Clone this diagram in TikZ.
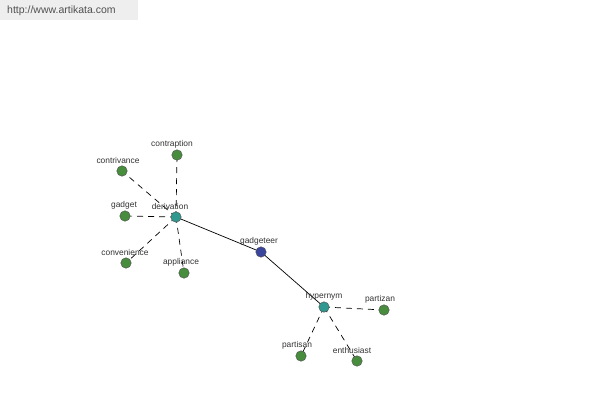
\documentclass[tikz,border=0pt]{standalone}
\usepackage{fontspec}
\setmainfont{Liberation Sans}
\begin{document}
\begin{tikzpicture}[x=1pt,y=-1pt,
  vert/.style={circle,draw=black!70,line width=0.4pt,minimum size=10.5pt,inner sep=0pt},
  leaf/.style={vert,fill={rgb,255:red,72;green,140;blue,62}},
  rel/.style={vert,fill={rgb,255:red,48;green,152;blue,142}},
  root/.style={vert,fill={rgb,255:red,58;green,70;blue,158}},
  lab/.style={font=\fontsize{8.4}{9}\selectfont,text={rgb,255:red,50;green,50;blue,50},inner sep=0pt},
  dashline/.style={dashed,dash pattern=on 6pt off 5pt,line width=0.7pt},
  solidline/.style={line width=0.7pt}]
\useasboundingbox (0,0) rectangle (600,400);
\fill[fill={rgb,255:red,238;green,238;blue,238}] (0,0) rectangle (138,20);
\node[anchor=west,inner sep=0pt,font=\fontsize{10.5}{11}\selectfont,text={rgb,255:red,80;green,80;blue,80}] (url) at (7,11) {http://www.artikata.com};

\coordinate (pder) at (176,217);
\coordinate (pgad) at (261,252);
\coordinate (phyp) at (324,307);

\draw[solidline] (pder) -- (pgad) -- (phyp);
\foreach \n/\x/\y in {contraption/177/155,contrivance/122/171,gadget/125/216,convenience/126/263,appliance/184/273}{
  \coordinate (p\n) at (\x,\y);
  \draw[dashline] (pder) -- (p\n);
}
\foreach \n/\x/\y in {partizan/384/310,partisan/301/356,enthusiast/357/361}{
  \coordinate (p\n) at (\x,\y);
  \draw[dashline] (phyp) -- (p\n);
}

\node[rel] (derivation) at (pder) {};
\node[root] (gadgeteer) at (pgad) {};
\node[rel] (hypernym) at (phyp) {};
\foreach \n in {contraption,contrivance,gadget,convenience,appliance,partizan,partisan,enthusiast}{
  \node[leaf] (\n) at (p\n) {};
}

\node[lab] (lderivation) at (170,206) {derivation};
\node[lab] (lgadgeteer) at (259,241) {gadgeteer};
\node[lab] (lhypernym) at (324,296) {hypernym};
\node[lab] (lcontraption) at (172,144) {contraption};
\node[lab] (lcontrivance) at (118,160) {contrivance};
\node[lab] (lgadget) at (124,205) {gadget};
\node[lab] (lconvenience) at (125,252) {convenience};
\node[lab] (lappliance) at (181,262) {appliance};
\node[lab] (lpartizan) at (380,299) {partizan};
\node[lab] (lpartisan) at (297,345) {partisan};
\node[lab] (lenthusiast) at (352,350) {enthusiast};
\end{tikzpicture}
\end{document}
